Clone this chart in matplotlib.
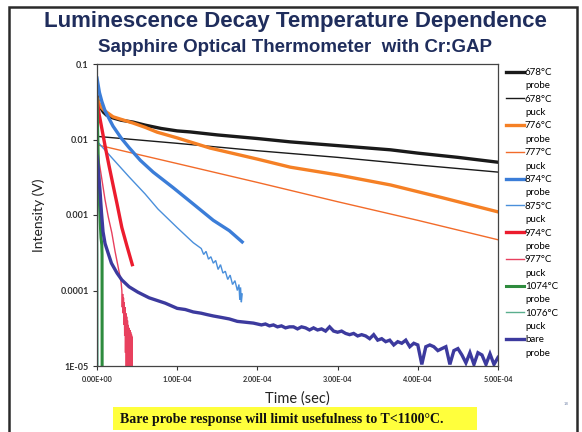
import matplotlib
matplotlib.use("Agg")
import matplotlib.pyplot as plt
from matplotlib.lines import Line2D
from matplotlib.patches import Rectangle
from matplotlib.ticker import NullLocator
import numpy as np

# ---------------- data (time in microseconds, intensity in volts) ----------------
t_678_probe = [0, 2, 5, 8, 12, 20, 30, 45, 60, 80, 100, 116, 150, 200, 241, 300, 366, 400, 450, 500]
i_678_probe = [0.038, 0.030, 0.026, 0.023, 0.021, 0.0193, 0.018, 0.017, 0.0155, 0.014, 0.013, 0.0126,
               0.0115, 0.0103, 0.0093, 0.0083, 0.0073, 0.0066, 0.0058, 0.0050]

t_678_puck = [0, 100, 200, 300, 400, 500]
i_678_puck = [0.011, 0.0089, 0.0071, 0.0058, 0.0046, 0.0037]

t_776_probe = [0, 2, 5, 8, 12, 20, 30, 45, 60, 75, 100, 141, 200, 241, 300, 366, 430, 500]
i_776_probe = [0.035, 0.031, 0.027, 0.025, 0.023, 0.020, 0.0185, 0.0165, 0.0145, 0.0125, 0.0105, 0.0077,
               0.0055, 0.0043, 0.0034, 0.0025, 0.0017, 0.0011]

t_777_puck = [0, 100, 200, 300, 400, 500]
i_777_puck = [0.0085, 0.0048, 0.0027, 0.0015, 0.00085, 0.00047]

t_874_probe = [0, 3, 6, 10, 20, 30, 40, 54, 70, 95, 120, 145, 165, 181]
i_874_probe = [0.065, 0.042, 0.032, 0.024, 0.015, 0.0105, 0.0078, 0.0053, 0.0037, 0.0023, 0.0014,
               0.00085, 0.00062, 0.00044]

t_875_puck = [0, 20, 40, 60, 76, 100, 120, 130, 133, 136, 139, 142, 145, 148, 151, 154, 157, 160,
              163, 166, 169, 172, 175, 177, 178, 179, 180, 181]
i_875_puck = [0.0095, 0.0055, 0.0032, 0.0019, 0.0012, 0.00068, 0.00043, 0.00036, 0.00030, 0.00033,
              0.00026, 0.00028, 0.00023, 0.00025, 0.00019, 0.00022, 0.00017, 0.00018, 0.00014, 0.00016,
              0.00012, 0.000135, 0.00010, 0.00012, 0.000075, 0.00011, 0.00007, 0.00009]

t_974_probe = [0, 2.5, 5, 10, 15, 20, 25, 31, 37, 44]
i_974_probe = [0.035, 0.022, 0.016, 0.0083, 0.0045, 0.0025, 0.0014, 0.00068, 0.0004, 0.00022]

t_977_puck = [0, 3, 6, 10, 14, 18.5, 22.5, 27, 30,
              31.0, 31.5, 32.0, 32.5, 33.0, 33.5, 34.0, 34.5, 35.0, 35.5, 36.0, 36.5, 37.0, 37.5,
              38.0, 38.5, 39.0, 39.5, 40.0, 40.5, 41.0, 41.5, 42.0, 42.5, 43.0, 43.5, 44.0]
i_977_puck = [0.0085, 0.0048, 0.0030, 0.0016, 0.00095, 0.00058, 0.00033, 0.00019, 0.00013,
              1.0e-4, 6e-5, 9e-5, 5e-5, 8e-5, 3.5e-5, 7e-5, 2.5e-5, 6e-5, 1.5e-5, 5e-5, 8e-6, 4.5e-5, 4e-6,
              4e-5, 2e-6, 3.5e-5, 1e-6, 3.2e-5, 1e-6, 3e-5, 1e-6, 2.8e-5, 1e-6, 2.6e-5, 1e-6, 2.4e-5]

t_1074_probe = [0, 1, 2, 3, 4, 5, 5.5, 6, 6.3, 6.5]
i_1074_probe = [0.035, 0.010, 0.0035, 0.0015, 0.0008, 0.0005, 0.00045, 0.0004, 0.0003, 1e-7]

t_1076_puck = [0, 0.5, 1.0, 1.3]
i_1076_puck = [0.010, 0.002, 0.0003, 1e-7]

t_bare = [0, 1.5, 3.75, 5.5, 7.5, 10, 14, 18, 25, 31, 40, 51, 65, 85, 100, 110, 120, 130, 137, 145,
          155, 165, 175, 185, 195,
          200, 205, 210, 215, 220, 225, 230, 235, 240, 245, 250, 255, 260, 265, 270, 275, 280, 285,
          290, 295, 300, 305, 310, 315, 320, 325, 330, 335, 340, 345, 350, 355, 360, 365, 370, 375,
          380, 385, 390, 395, 400, 405, 410, 415, 420, 425, 430, 435, 440, 445, 450, 455, 460, 465,
          470, 475, 480, 485, 490, 495, 500]
i_bare = [0.006, 0.004, 0.0021, 0.0011, 0.0006, 0.00042, 0.00031, 0.00023, 0.00017, 0.000138,
          0.000112, 9.5e-5, 8e-5, 6.8e-5, 5.8e-5, 5.6e-5, 5.2e-5, 5.0e-5, 4.8e-5, 4.6e-5,
          4.4e-5, 4.2e-5, 3.9e-5, 3.8e-5, 3.7e-5,
          3.6e-5, 3.5e-5, 3.6e-5, 3.4e-5, 3.5e-5, 3.3e-5, 3.4e-5, 3.2e-5, 3.3e-5, 3.3e-5, 3.1e-5,
          3.3e-5, 3.2e-5, 3.0e-5, 3.2e-5, 3.0e-5, 3.1e-5, 2.9e-5, 3.3e-5, 2.9e-5, 2.8e-5, 2.9e-5,
          2.7e-5, 2.6e-5, 2.7e-5, 2.5e-5, 2.6e-5, 2.5e-5, 2.3e-5, 2.6e-5, 2.2e-5, 2.3e-5, 2.1e-5,
          2.2e-5, 1.9e-5, 2.1e-5, 2.0e-5, 2.2e-5, 1.8e-5, 2.0e-5, 1.9e-5, 1.05e-5, 1.8e-5, 1.9e-5,
          1.8e-5, 1.6e-5, 1.7e-5, 1.8e-5, 1.05e-5, 1.6e-5, 1.7e-5, 1.4e-5, 1.1e-5, 1.5e-5, 1.05e-5,
          1.5e-5, 1.4e-5, 1.05e-5, 1.45e-5, 1.05e-5, 1.3e-5]

temps = ['678°C', '678°C', '776°C', '777°C', '874°C', '875°C', '974°C', '977°C', '1074°C', '1076°C', 'bare']
kinds = ['probe', 'puck', 'probe', 'puck', 'probe', 'puck', 'probe', 'puck', 'probe', 'puck', 'probe']

x_tick_values = [0, 1e-4, 2e-4, 3e-4, 4e-4, 5e-4]
x_tick_labels = ['0.00E+00', '1.00E-04', '2.00E-04', '3.00E-04', '4.00E-04', '5.00E-04']
y_tick_values = [1e-5, 1e-4, 1e-3, 1e-2, 1e-1]
y_tick_labels = ['1E-05', '0.0001', '0.001', '0.01', '0.1']

# ---------------- styles ----------------
series = [
    (t_678_probe, i_678_probe, '#1a1a1a', 2.4),
    (t_678_puck, i_678_puck, '#1a1a1a', 1.0),
    (t_776_probe, i_776_probe, '#F58025', 2.4),
    (t_777_puck, i_777_puck, '#F26B2A', 1.0),
    (t_874_probe, i_874_probe, '#3B7DD8', 2.4),
    (t_875_puck, i_875_puck, '#4A8FDB', 1.0),
    (t_974_probe, i_974_probe, '#EC1C2E', 2.4),
    (t_977_puck, i_977_puck, '#E8405E', 1.0),
    (t_1074_probe, i_1074_probe, '#2E8B3E', 2.2),
    (t_1076_puck, i_1076_puck, '#5AAE8E', 1.0),
    (t_bare, i_bare, '#3C3A9E', 2.4),
]

W, H = 582, 432
fig = plt.figure(figsize=(W / 100, H / 100), dpi=100)
fig.patch.set_facecolor('white')

ax = fig.add_axes([97 / W, 1 - 366 / H, (498 - 97) / W, (366 - 64) / H])

lines = []
for t, v, c, lw in series:
    ln, = ax.plot(np.array(t) * 1e-6, v, color=c, lw=lw, solid_joinstyle='miter')
    lines.append(ln)

ax.set_yscale('log')
ax.set_xlim(0, 5e-4)
ax.set_ylim(1e-5, 0.1)
ax.set_xticks(x_tick_values)
ax.set_xticklabels(x_tick_labels)
ax.set_yticks(y_tick_values)
ax.set_yticklabels(y_tick_labels)
ax.yaxis.set_minor_locator(NullLocator())
ax.xaxis.set_minor_locator(NullLocator())

for lab in ax.get_xticklabels():
    lab.set_fontfamily('Lato')
    lab.set_fontweight('bold')
    lab.set_fontsize(5.2)
for lab in ax.get_yticklabels():
    lab.set_fontfamily('Lato')
    lab.set_fontweight('bold')
    lab.set_fontsize(6.5)
ax.tick_params(axis='y', direction='out', length=3, width=0.8, pad=3, colors='#333333')
ax.tick_params(axis='x', direction='out', length=3, width=0.8, pad=4, colors='#333333')
for sp in ax.spines.values():
    sp.set_linewidth(0.9)
    sp.set_color('#444444')

ax.set_ylabel('Intensity (V)', fontsize=10, family='Lato', color='#222222')
ax.yaxis.set_label_coords(-0.13, 0.5)
ax.set_xlabel('Time (sec)', fontsize=10.5, family='Lato', color='#222222')
ax.xaxis.set_label_coords(0.5, -0.083)

# legend: temperature line with handle, kind line without
handles, labels = [], []
for ln, tp, kd in zip(lines, temps, kinds):
    handles.append(ln)
    labels.append(tp)
    handles.append(Line2D([], [], linestyle='none'))
    labels.append(kd)
fig.legend(handles, labels, loc='upper left', bbox_to_anchor=(506 / W, 1 - 68 / H),
           frameon=False, prop={'family': 'Lato', 'size': 7}, handlelength=1.8,
           handletextpad=0.15, labelspacing=0.45, borderpad=0, borderaxespad=0)

# titles
fig.text(0.507, 1 - 21 / H, 'Luminescence Decay Temperature Dependence', ha='center', va='center',
         fontsize=16, fontweight='bold', family='Liberation Sans', color='#1F2D5C')
fig.text(0.507, 1 - 47 / H, 'Sapphire Optical Thermometer  with Cr:GAP', ha='center', va='center',
         fontsize=13.5, fontweight='bold', family='Liberation Sans', color='#1F2D5C')

# outer slide frame
fig.add_artist(Rectangle((9 / W, -0.05), (577 - 9) / W, 1 - 7 / H + 0.05, transform=fig.transFigure,
                         fill=False, edgecolor='#2a2a2a', linewidth=1.8))

# yellow note box
fig.add_artist(Rectangle((113 / W, 1 - 430 / H), (477 - 113) / W, 23 / H, transform=fig.transFigure,
                         facecolor='#FFFF3C', edgecolor='none'))
fig.text(120 / W, 1 - 419 / H, 'Bare probe response will limit usefulness to T<1100°C.', ha='left',
         va='center', fontsize=10, fontweight='bold', family='Liberation Serif', color='#111111')
fig.text(566 / W, 1 - 404 / H, '18', fontsize=3, color='#7f8fb0', ha='center', va='center')

fig.savefig('out.png', dpi=100, facecolor='white')
